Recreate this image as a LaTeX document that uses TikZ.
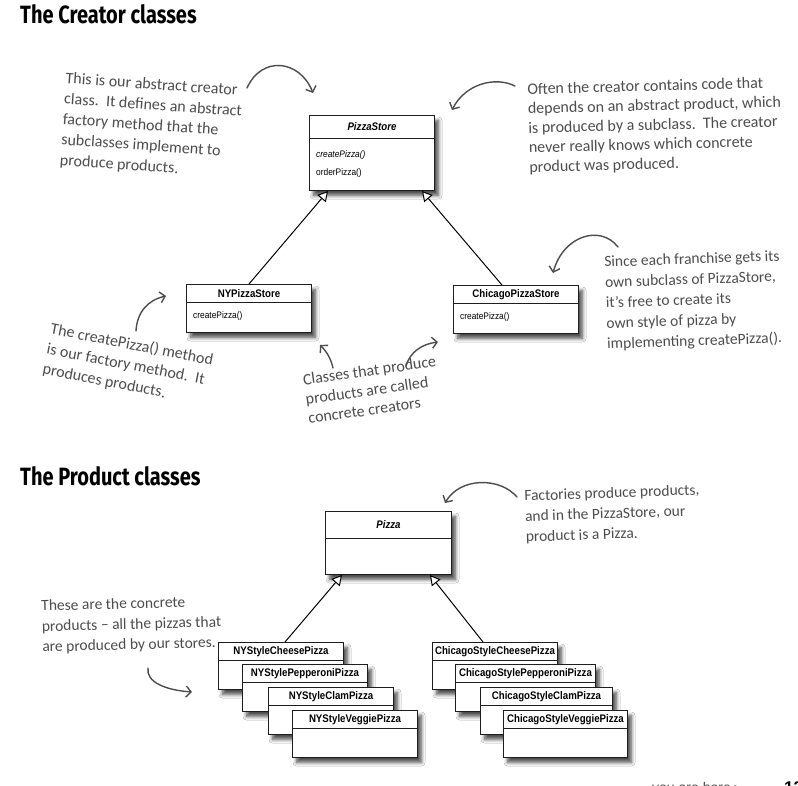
\documentclass[tikz,border=0pt]{standalone}
\usepackage{fontspec}
\setmainfont{Liberation Sans}
\newfontfamily\umlfont[FakeStretch=0.88]{Liberation Sans}
\newfontfamily\notefont{Carlito}
\newfontfamily\headfont[FakeStretch=0.8]{Fira Sans}
\newfontfamily\symfont{DejaVu Sans}
\usetikzlibrary{arrows.meta,calc,shadows,shadows.blur}

\definecolor{notegray}{HTML}{4D4D4D}
\definecolor{boxline}{HTML}{1E1E1E}

\tikzset{
  classbox/.style={draw=boxline, line width=1pt, fill=white, anchor=north west, inner sep=0pt,
    blur shadow={shadow xshift=4pt, shadow yshift=-5pt, shadow blur radius=3.5pt,
                 shadow blur steps=8, shadow opacity=70}},
  divline/.style={draw=boxline, line width=0.9pt},
  classtitle/.style={font=\umlfont\fontsize{11}{13}\selectfont\bfseries, inner sep=0pt},
  member/.style={font=\umlfont\fontsize{9.5}{11}\selectfont, anchor=west, inner sep=0pt},
  inherit/.style={draw=black, line width=1pt,
    -{Triangle[length=10pt, width=11pt, fill=white, line width=1pt]}},
  note/.style={font=\notefont\fontsize{16}{20.5}\selectfont, text=notegray, align=left,
    anchor=north west, inner sep=0pt},
  notetight/.style={font=\notefont\fontsize{16}{19.5}\selectfont},
  notesmall/.style={font=\notefont\fontsize{15.5}{20.5}\selectfont},
  notearrow/.style={draw=notegray, line width=1.4pt, line cap=round,
    -{Straight Barb[length=5pt, width=11pt, line width=1.4pt]}},
  heading/.style={font=\headfont\bfseries\fontsize{25}{28}\selectfont, anchor=base west, inner sep=0pt},
}

% name, x, y, width, height, divider offset, title
\newcommand\umlbox[7]{%
  \node[classbox, minimum width=#4pt, minimum height=#5pt] (#1) at (#2,#3) {};
  \draw[divline] ($(#1.north west)+(0,#6)$) -- ($(#1.north east)+(0,#6)$);
  \node[classtitle] (#1-title) at ($(#1.north)+(0,#6*0.5+0.5)$) {#7};
}

\begin{document}
\begin{tikzpicture}[x=1pt, y=-1pt]
\useasboundingbox (0,0) rectangle (798,785);
\clip (0,0) rectangle (798,785);
\fill[white] (0,0) rectangle (798,785);

% ---------- headings ----------
\node[heading] (h1) at (20,23) {The Creator classes};
\node[heading] (h2) at (20,485) {The Product classes};

% ---------- creator classes ----------
\umlbox{ps}{309}{115}{125}{75}{23}{\itshape PizzaStore}
\node[member] (ps-m1) at ($(ps.north west)+(7,40)$) {\itshape createPizza()};
\node[member] (ps-m2) at ($(ps.north west)+(7,58)$) {orderPizza()};

\umlbox{ny}{186}{284}{125}{48}{18}{NYPizzaStore}
\node[member] (ny-m1) at ($(ny.north west)+(7,32)$) {createPizza()};

\umlbox{chi}{453}{285}{125}{48}{18}{ChicagoPizzaStore}
\node[member] (chi-m1) at ($(chi.north west)+(7,32)$) {createPizza()};

\draw[inherit] ($(ny.north west)+(63,0)$) -- ($(ps.south west)+(19,0)$);
\draw[inherit] ($(chi.north west)+(49,0)$) -- ($(ps.south east)+(-13,0)$);

% ---------- product classes ----------
\umlbox{pizza}{325}{511}{126}{63}{27}{\itshape Pizza}

\umlbox{nycheese}{218}{642}{125}{47}{18}{NYStyleCheesePizza}
\umlbox{nypep}{242}{664}{125}{47}{18}{NYStylePepperoniPizza}
\umlbox{nyclam}{268}{687}{125}{47}{18}{NYStyleClamPizza}
\umlbox{nyveg}{292}{710}{125}{47}{18}{NYStyleVeggiePizza}

\umlbox{chicheese}{432}{642}{125}{47}{18}{ChicagoStyleCheesePizza}
\umlbox{chipep}{455}{664}{140}{47}{18}{ChicagoStylePepperoniPizza}
\umlbox{chiclam}{480}{687}{132}{47}{18}{ChicagoStyleClamPizza}
\umlbox{chiveg}{503}{710}{124}{47}{18}{ChicagoStyleVeggiePizza}

\draw[inherit] ($(nycheese.north west)+(67,0)$) -- ($(pizza.south west)+(17,0)$);
\draw[inherit] ($(chicheese.north west)+(51,0)$) -- ($(pizza.south east)+(-22,0)$);

% ---------- handwritten notes ----------
\node[note, rotate=-4] (n1) at (66,72) {This is our abstract creator\\class.\ \ It defines an abstract\\factory method that the\\subclasses implement to\\produce products.};
\coordinate (a1s) at (247,88);
\coordinate (a1e) at (313,93);
\draw[notearrow] (a1s) .. controls (262,55) and (300,60) .. (a1e);

\node[note, notetight, rotate=1.5] (n2) at (527,83) {Often the creator contains code that\\depends on an abstract product, which\\is produced by a subclass.\ \ The creator\\never really knows which concrete\\product was produced.};
\coordinate (a2s) at (515,86);
\coordinate (a2e) at (452,110);
\draw[notearrow] (a2s) .. controls (495,76) and (465,84) .. (a2e);

\node[note, rotate=-11] (n3) at (52,322) {The createPizza() method\\is our factory method.\ \ It\\produces products.};
\coordinate (a3s) at (136,331);
\coordinate (a3e) at (166,296);
\draw[notearrow] (a3s) .. controls (137,312) and (148,300) .. (a3e);

\node[note, notetight, rotate=8] (n4) at (302,374) {Classes that produce\\products are called\\concrete creators};
\coordinate (a4s) at (333,368);
\coordinate (a4e) at (320,345);
\draw[notearrow] (a4s) .. controls (331,359) and (327,352) .. (a4e);
\coordinate (a5s) at (406,366);
\coordinate (a5e) at (438,342);
\draw[notearrow] (a5s) .. controls (410,352) and (422,344) .. (a5e);

\node[note, notesmall, rotate=2] (n5) at (604,256) {Since each franchise gets its\\own subclass of PizzaStore,\\it’s free to create its\\own style of pizza by\\implementing createPizza().};
\coordinate (a6s) at (618,247);
\coordinate (a6e) at (553,273);
\draw[notearrow] (a6s) .. controls (600,224) and (563,236) .. (a6e);

\node[note, notesmall, rotate=2] (n6) at (524,490) {Factories produce products,\\and in the PizzaStore, our\\product is a Pizza.};
\coordinate (a7s) at (517,497);
\coordinate (a7e) at (445,503);
\draw[notearrow] (a7s) .. controls (500,477) and (460,477) .. (a7e);

\node[note, notesmall, rotate=1.5] (n7) at (41,600) {These are the concrete\\products – all the pizzas that\\are produced by our stores.};
\coordinate (a8s) at (148,668);
\coordinate (a8e) at (192,692);
\draw[notearrow] (a8s) .. controls (146,682) and (165,690) .. (a8e);

% ---------- page footer ----------
\node[anchor=base west, inner sep=0pt, text=notegray, font=\fontsize{14}{16}\selectfont] (foot) at (652,792) {you are here {\symfont ▸}};
\node[anchor=base west, inner sep=0pt, font=\bfseries\fontsize{17}{18}\selectfont] (page) at (784,793) {13};
\end{tikzpicture}
\end{document}
